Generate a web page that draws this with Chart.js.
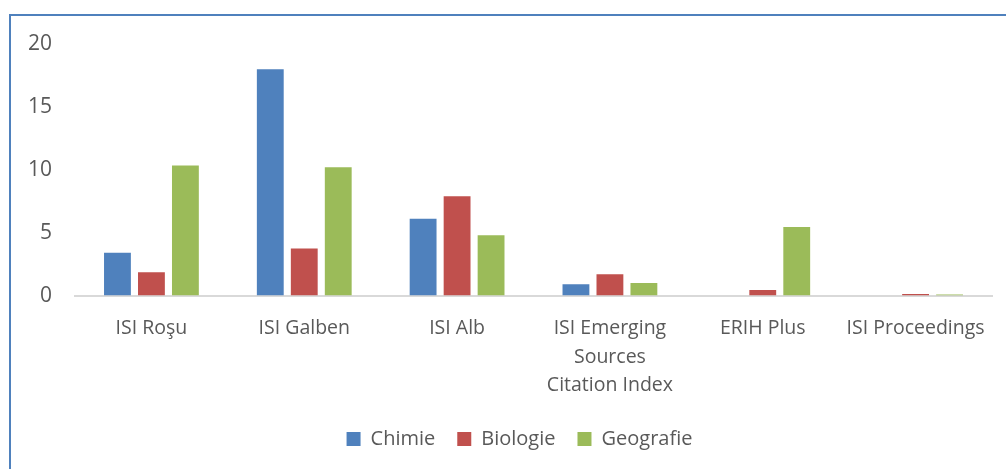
<!DOCTYPE html>
<html>
<head>
<meta charset="utf-8">
<script src="https://cdn.jsdelivr.net/npm/chart.js@4"></script>
<style>
  body { margin: 0; background: #fff; }
  #wrap { position: relative; width: 1006px; height: 469px; overflow: hidden; }
  #frame { position: absolute; left: 9px; top: 14px; width: 1200px; height: 600px; border: 2px solid #4F81BD; }
  #chart { position: absolute; left: 0; top: 0; }
</style>
</head>
<body>
<div id="wrap">
  <div id="frame"></div>
  <canvas id="chart" width="1006" height="469"></canvas>
</div>
<script>
// Categorii de indexare
const categorii = ['ISI Roşu', 'ISI Galben', 'ISI Alb', ['ISI Emerging', 'Sources', 'Citation Index'], 'ERIH Plus', 'ISI Proceedings'];
// Valori pe facultăţi
const chimie = [3.4, 18, 6.1, 0.9, 0, 0];
const biologie = [1.85, 3.75, 7.9, 1.7, 0.45, 0.12];
const geografie = [10.35, 10.2, 4.8, 1.0, 5.45, 0.08];
const yTicks = [0, 5, 10, 15, 20];

const textColor = '#595959';
const fontFam = "'Open Sans', sans-serif";

// legenda e centrată pe zona graficului, nu pe tot canvas-ul
const legendShift = {
  id: 'legendShift',
  afterLayout(chart) {
    const lg = chart.legend;
    lg.left += 21;
    lg.right += 21;
    lg.top -= 12;
    lg.bottom -= 12;
  }
};

new Chart(document.getElementById('chart'), {
  type: 'bar',
  data: {
    labels: categorii,
    datasets: [
      { label: 'Chimie', data: chimie, backgroundColor: '#4F81BD' },
      { label: 'Biologie', data: biologie, backgroundColor: '#C0504D' },
      { label: 'Geografie', data: geografie, backgroundColor: '#9BBB59' }
    ]
  },
  plugins: [legendShift],
  options: {
    responsive: false,
    animation: false,
    categoryPercentage: 0.667,
    barPercentage: 0.79,
    layout: { padding: { top: 44, right: 14, left: 5, bottom: -2 } },
    plugins: {
      legend: {
        position: 'bottom',
        labels: {
          boxWidth: 14,
          boxHeight: 14,
          padding: 22,
          color: textColor,
          font: { family: fontFam, size: 20 }
        }
      },
      tooltip: { enabled: false }
    },
    scales: {
      y: {
        min: 0,
        max: 20,
        afterBuildTicks: axis => { axis.ticks = yTicks.map(v => ({ value: v })); },
        grid: { display: false, drawTicks: false },
        border: { display: false },
        ticks: { padding: 23, color: textColor, font: { family: fontFam, size: 21 } }
      },
      x: {
        grid: { display: false, drawTicks: false },
        border: { display: true, color: '#D9D9D9', width: 2 },
        ticks: {
          padding: 19,
          maxRotation: 0,
          autoSkip: false,
          color: textColor,
          font: { family: fontFam, size: 19.5, lineHeight: 1.46 }
        }
      }
    }
  }
});
</script>
</body>
</html>
